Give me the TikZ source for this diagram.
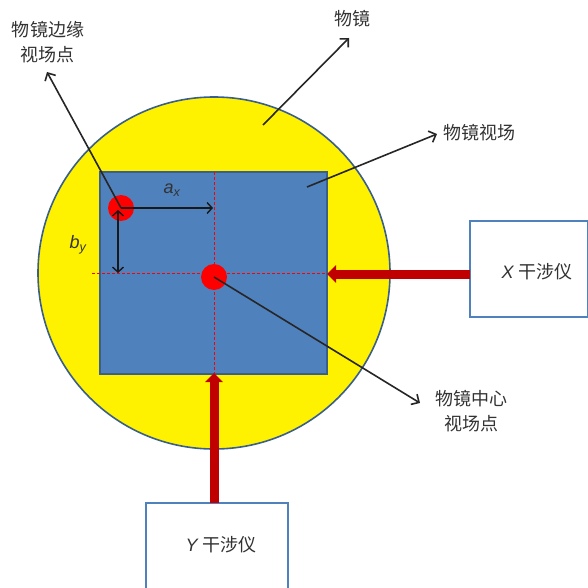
\documentclass[tikz,border=0pt]{standalone}
\usepackage{fontspec}
\setmainfont{Liberation Sans}
\newfontfamily\cjk{Noto Sans CJK SC}
\usetikzlibrary{arrows.meta}
\definecolor{fieldblue}{HTML}{4F81BD}
\definecolor{fieldedge}{HTML}{3A5F8C}
\definecolor{darkred}{HTML}{C00000}
\tikzset{
  lbl/.style={font=\cjk\fontsize{18}{25}\selectfont, align=center, inner sep=0pt, text=black!80},
  ptr/.style={draw=black!85, line width=1.6pt, -{Straight Barb[length=6pt,width=12pt,line width=1.6pt]}},
  dimarrow/.style={draw=black!90, line width=1.4pt},
  beam/.style={draw=darkred, line width=9pt, -{Triangle[width=17pt,length=9pt]}},
  guide/.style={draw=red, line width=1.2pt, dash pattern=on 3pt off 2pt},
  spot/.style={circle, fill=red, minimum size=26pt, inner sep=0pt},
  interf/.style={draw=fieldblue, line width=1.8pt, fill=white, inner sep=0pt},
  itxt/.style={font=\fontsize{18}{22}\selectfont, inner sep=0pt, text=black!80}
}
\begin{document}
\begin{tikzpicture}[x=1pt,y=-1pt]
\useasboundingbox (0,0) rectangle (587,588);
% mirror
\node[circle, draw=fieldedge, line width=1.6pt, fill=yellow, minimum size=352pt, inner sep=0pt] (mirror) at (214,273) {};
% field of view
\node[rectangle, draw=fieldedge, line width=1.3pt, fill=fieldblue, minimum width=227pt, minimum height=202pt, inner sep=0pt] (field) at (213.5,273) {};
% guides
\coordinate (gl) at (92,273.5);
\coordinate (gr) at (327,273.5);
\draw[guide] (gl) -- (gr);
\coordinate (gt) at (214.5,172);
\coordinate (gb) at (214.5,374);
\draw[guide] (gt) -- (gb);
% spots
\node[spot] (edgept) at (121,208) {};
\node[spot] (centerpt) at (214,277) {};
% dimension arrows
\coordinate (axend) at (213,208);
\draw[dimarrow, -{Straight Barb[length=5pt,width=11pt,line width=1.4pt]}] (edgept.center) -- (axend);
\node[itxt] (axlbl) at (172,190) {\itshape a\textsubscript{\itshape x}};
\coordinate (bytop) at (118,210);
\coordinate (bybot) at (118,273);
\draw[dimarrow, {Straight Barb[length=5pt,width=11pt,line width=1.4pt]}-{Straight Barb[length=5pt,width=11pt,line width=1.4pt]}] (bytop) -- (bybot);
\node[itxt] (bylbl) at (78,245) {\itshape b\textsubscript{\itshape y}};
% interferometers
\node[interf, minimum width=118pt, minimum height=96pt] (xbox) at (529,269) {};
\node[itxt] (xtxt) at (537,272) {\itshape X\normalfont\ \cjk 干涉仪};
\node[interf, minimum width=142pt, minimum height=100pt] (ybox) at (217,553) {};
\node[itxt] (ytxt) at (221,545) {\itshape Y\normalfont\ \cjk 干涉仪};
% beams
\coordinate (xin) at (470,274);
\coordinate (xhit) at (327,274);
\draw[beam] (xin) -- (xhit);
\coordinate (yin) at (214,503);
\coordinate (yhit) at (214,373);
\draw[beam] (yin) -- (yhit);
% labels
\node[lbl] (edgelbl) at (48,42) {物镜边缘\\视场点};
\coordinate (edgetip) at (47,72);
\draw[ptr] (edgept.center) -- (edgetip);
\node[lbl] (mirlbl) at (352,19) {物镜};
\coordinate (mirfrom) at (263,125);
\coordinate (mirtip) at (349,38);
\draw[ptr] (mirfrom) -- (mirtip);
\node[lbl, anchor=west] (fovlbl) at (443,133) {物镜视场};
\coordinate (fovfrom) at (307,187);
\coordinate (fovtip) at (437,134);
\draw[ptr] (fovfrom) -- (fovtip);
\node[lbl] (ctrlbl) at (471,411) {物镜中心\\视场点};
\coordinate (ctrtip) at (420,403);
\draw[ptr] (centerpt.center) -- (ctrtip);
\end{tikzpicture}
\end{document}
